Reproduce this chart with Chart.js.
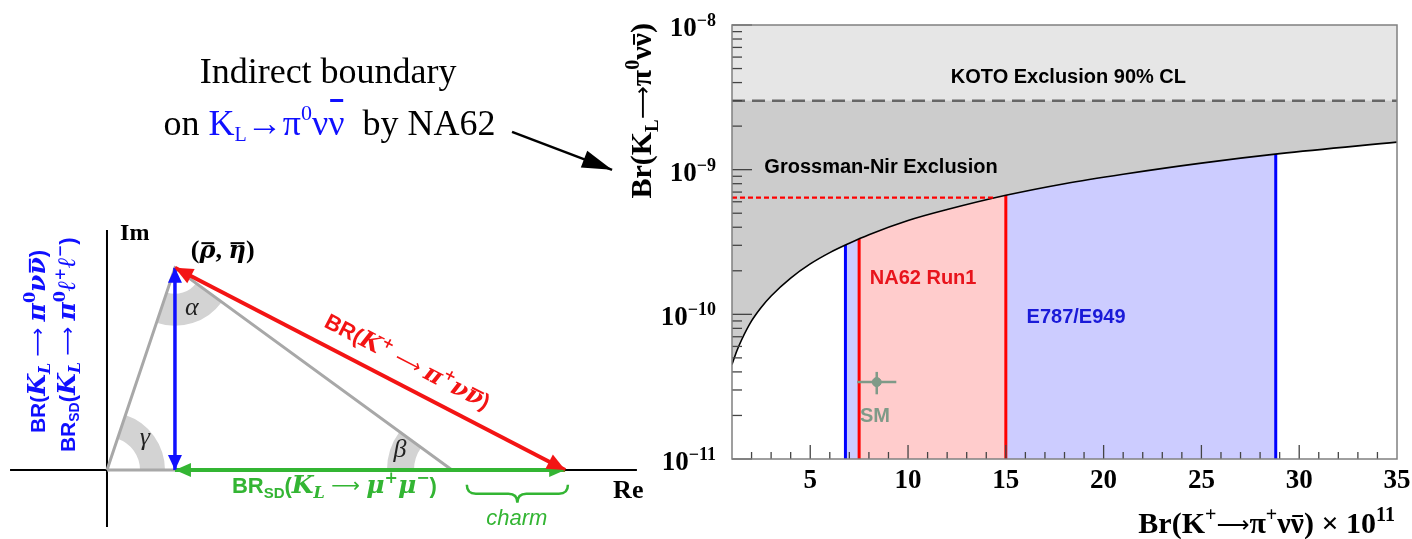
<!DOCTYPE html>
<html>
<head>
<meta charset="utf-8">
<script src="https://cdn.jsdelivr.net/npm/chart.js@4"></script>
<style>
  html, body { margin: 0; padding: 0; background: #fff; }
  #wrap { position: relative; width: 1412px; height: 539px; overflow: hidden; }
  #diagram { position: absolute; left: 0; top: 0; }
  #limits { position: absolute; left: 620px; top: 0; }
</style>
</head>
<body>
<div id="wrap">
  <canvas id="diagram" width="660" height="539"></canvas>
  <canvas id="limits" width="812" height="539"></canvas>
</div>
<script>
const SERIF = '"Liberation Serif", "Times New Roman", serif';
const SANS = '"Liberation Sans", Arial, sans-serif';
const MATH = '"DejaVu Serif", serif';
const ARROWF = '"DejaVu Sans", sans-serif';

// ---- right panel: Br(KL) vs Br(K+) ----
const brKplus = [1, 1.25, 1.5, 2, 2.5, 3, 4, 5, 6, 7, 8, 10, 12, 15, 18, 21, 25, 29, 35]; // x 1e-11
const gnBound = [4.5e-11, 5.6e-11, 6.7e-11, 9.0e-11, 1.12e-10, 1.34e-10, 1.78e-10, 2.23e-10, 2.67e-10,
  3.1e-10, 3.55e-10, 4.45e-10, 5.3e-10, 6.65e-10, 8.0e-10, 9.3e-10, 1.11e-9, 1.29e-9, 1.55e-9];
const kotoLimit = 3.0e-9;
const na62Run1 = [7.5, 15.0];
const e787e949 = [6.8, 28.8];
const na62Indirect = 6.4e-10;
const na62IndirectEnd = 14.5;
const smKplus = [8.4], smKplusErr = [1.0];
const smKL = [3.4e-11], smKLErr = [0.6e-11];
const xMin = 1, xMax = 35;
const yMin = 1e-11, yMax = 1e-8;
const xMajor = [5, 10, 15, 20, 25, 30, 35];
const yDecades = [1e-11, 1e-10, 1e-9, 1e-8];

// ---- left panel: unitarity triangle (units of the base) ----
const origin = [0, 0];
const apex = [0.197, 0.586];
const unitPt = [1, 0];
const kplusEnd = 1.328;
const reAxisX = [-0.281, 1.536];
const imAxisY = [-0.165, 0.696];
const noteArrowX = [1.174, 1.464];
const noteArrowY = [0.980, 0.870];
const braceX = [1.043, 1.336];
const braceTop = -0.043;

const BLUE = '#1010ff', RED = '#f31414', GREEN = '#33b533';
const f = (size, style = '', fam = SERIF) => `${style} ${size}px ${fam}`.trim();

function richWidth(ctx, parts) {
  let w = 0;
  for (const p of parts) { ctx.font = p.f; w += ctx.measureText(p.t).width; }
  return w;
}

function drawRich(ctx, parts, x, y, o = {}) {
  ctx.save();
  ctx.translate(x, y);
  if (o.angle) ctx.rotate(o.angle);
  const w = richWidth(ctx, parts);
  let cx = o.align === 'center' ? -w / 2 : o.align === 'right' ? -w : 0;
  ctx.textAlign = 'left';
  ctx.textBaseline = 'alphabetic';
  for (const p of parts) {
    ctx.font = p.f;
    ctx.fillStyle = p.c || o.color || '#000';
    const pw = ctx.measureText(p.t).width;
    const dy = p.dy || 0;
    ctx.fillText(p.t, cx, dy);
    if (p.bar) ctx.fillRect(cx + pw * 0.12, dy - p.bar[0] - p.bar[1], pw * 0.8, p.bar[1]);
    cx += pw;
  }
  ctx.restore();
}

function wedge(ctx, V, P, Q, r0, r1) {
  let a1 = Math.atan2(P[1] - V[1], P[0] - V[0]);
  const a2 = Math.atan2(Q[1] - V[1], Q[0] - V[0]);
  let d = a2 - a1;
  while (d > Math.PI) d -= 2 * Math.PI;
  while (d < -Math.PI) d += 2 * Math.PI;
  if (d < 0) { a1 = a2; d = -d; }
  ctx.beginPath();
  ctx.arc(V[0], V[1], r1, a1, a1 + d, false);
  ctx.arc(V[0], V[1], r0, a1 + d, a1, true);
  ctx.closePath();
  ctx.fill();
}

function head(ctx, x0, y0, x1, y1, L, W) {
  const a = Math.atan2(y1 - y0, x1 - x0);
  const c = Math.cos(a), s = Math.sin(a);
  ctx.beginPath();
  ctx.moveTo(x1, y1);
  ctx.lineTo(x1 - L * c + W * s, y1 - L * s - W * c);
  ctx.lineTo(x1 - L * c - W * s, y1 - L * s + W * c);
  ctx.closePath();
  ctx.fill();
}

function brace(ctx, x0, x1, y0, h) {
  const m = (x0 + x1) / 2, r = 9, mid = y0 + h / 2;
  ctx.beginPath();
  ctx.moveTo(x0, y0);
  ctx.quadraticCurveTo(x0, mid, x0 + r, mid);
  ctx.lineTo(m - r, mid);
  ctx.quadraticCurveTo(m, mid, m, y0 + h);
  ctx.quadraticCurveTo(m, mid, m + r, mid);
  ctx.lineTo(x1 - r, mid);
  ctx.quadraticCurveTo(x1, mid, x1, y0);
  ctx.stroke();
}

// math pieces
const mi = (t, size, c, dy) => ({ t, f: f(size, 'italic bold', MATH), c, dy });
const ms = (t, size, c, dy) => ({ t, f: f(size, 'bold', MATH), c, dy });
const sb = (t, size, c, dy) => ({ t, f: f(size, 'bold', SANS), c, dy });
const rm = (t, size, c, dy) => ({ t, f: f(size, ''), c, dy });
const bd = (t, size, c, dy) => ({ t, f: f(size, 'bold'), c, dy });
const ar = (t, size, c, dy) => ({ t, f: f(size, '', ARROWF), c, dy });

const txtIndirect = [rm('Indirect boundary', 36)];
const txtOnKL = [
  rm('on ', 36),
  rm('K', 36, BLUE), rm('L', 20, BLUE, 6),
  rm('\u2192\u03c0', 36, BLUE), rm('0', 22, BLUE, -15),
  rm('\u03bd', 36, BLUE), { ...rm('\u03bd', 36, BLUE), bar: [33, 3] },
  rm('  by NA62', 36),
];
const txtBlue1 = [
  sb('BR(', 21, BLUE), mi('K', 25, BLUE), mi('L', 16, BLUE, 5), ar(' \u27f6 ', 20, BLUE, -1),
  mi('\u03c0', 25, BLUE), ms('0', 16, BLUE, -10), mi('\u03bd', 25, BLUE),
  { ...mi('\u03bd', 25, BLUE), bar: [14, 2] }, sb(')', 22, BLUE),
];
const txtBlue2 = [
  sb('BR', 21, BLUE), sb('SD', 14, BLUE, 4), sb('(', 22, BLUE), mi('K', 25, BLUE), mi('L', 16, BLUE, 5),
  ar(' \u27f6 ', 20, BLUE, -1), mi('\u03c0', 25, BLUE), ms('0', 16, BLUE, -10),
  mi('\u2113', 25, BLUE), ms('+', 15, BLUE, -10), mi('\u2113', 25, BLUE), ms('\u2212', 15, BLUE, -10), sb(')', 22, BLUE),
];
const txtRed = [
  sb('BR(', 22, RED), mi('K', 24, RED), ms('+', 15, RED, -10), ar(' \u27f6 ', 19, RED, -1),
  mi('\u03c0', 24, RED), ms('+', 15, RED, -10), mi('\u03bd', 24, RED),
  { ...mi('\u03bd', 24, RED), bar: [13, 2] }, sb(')', 22, RED),
];
const txtGreen = [
  sb('BR', 22, GREEN), sb('SD', 15, GREEN, 5), sb('(', 22, GREEN), mi('K', 25, GREEN), mi('L', 16, GREEN, 5),
  ar(' \u27f6 ', 20, GREEN, -1), mi('\u03bc', 25, GREEN), ms('+', 16, GREEN, -10),
  mi('\u03bc', 25, GREEN), ms('\u2212', 16, GREEN, -10), sb(')', 22, GREEN),
];
const txtApex = [
  bd('(', 26), { ...mi('\u03c1', 24), bar: [14, 2] }, bd(', ', 26), { ...mi('\u03b7', 24), bar: [14, 2] }, bd(')', 26),
];

// label anchors in triangle units
const diagramLabels = [
  { parts: txtIndirect, at: [0.641, 1.122], align: 'center' },
  { parts: txtOnKL, at: [0.645, 0.971], align: 'center' },
  { parts: [bd('Im', 24)], at: [0.038, 0.667] },
  { parts: txtApex, at: [0.243, 0.614] },
  { parts: txtBlue1, at: [-0.180, 0.107], angle: -Math.PI / 2 },
  { parts: txtBlue2, at: [-0.093, 0.052], angle: -Math.PI / 2 },
  { parts: txtRed, at: [0.626, 0.417], alongRed: true },
  { parts: txtGreen, at: [0.362, -0.067] },
  { parts: [{ t: 'charm', f: f(22, 'italic', SANS), c: GREEN }], at: [1.188, -0.159], align: 'center' },
  { parts: [bd('Re', 26)], at: [1.467, -0.081] },
];
const greek = [
  { t: '\u03b1', at: [0.246, 0.470] },
  { t: '\u03b2', at: [0.849, 0.058] },
  { t: '\u03b3', at: [0.110, 0.093] },
];

const seg = (x0, y0, x1, y1) => [{ x: x0, y: y0 }, { x: x1, y: y1 }];
const lineSet = (data, color, width, order, extra = {}) => ({
  data, showLine: true, borderColor: color, borderWidth: width, pointRadius: 0,
  fill: false, order, borderCapStyle: 'butt', ...extra,
});

const diagramSets = [
  lineSet(seg(reAxisX[0], 0, reAxisX[1], 0), '#000', 2, 8),
  lineSet(seg(0, imAxisY[0], 0, imAxisY[1]), '#000', 2, 8),
  lineSet([origin, apex, unitPt, origin].map(p => ({ x: p[0], y: p[1] })), '#a8a8a8', 3, 7),
  lineSet(seg(apex[0], 0, kplusEnd, 0), GREEN, 4, 5, { heads: ['start', 'end'], headLen: 16, headW: 7 }),
  lineSet(seg(apex[0], 0, apex[0], apex[1]), BLUE, 3.5, 4, { heads: ['start', 'end'], headLen: 15, headW: 7 }),
  lineSet(seg(apex[0], apex[1], kplusEnd, 0), RED, 4, 3, { heads: ['start', 'end'], headLen: 18, headW: 8 }),
  lineSet(seg(noteArrowX[0], noteArrowY[0], noteArrowX[1], noteArrowY[1]), '#000', 2.5, 2, { heads: ['end'], headLen: 30, headW: 9 }),
];

const diagramDecor = {
  id: 'diagramDecor',
  beforeDatasetsDraw(chart) {
    const { ctx, scales: { x, y } } = chart;
    const P = p => [x.getPixelForValue(p[0]), y.getPixelForValue(p[1])];
    const O = P(origin), A = P(apex), B = P(unitPt);
    ctx.save();
    ctx.fillStyle = '#d3d3d3';
    wedge(ctx, O, B, A, 33, 58);
    wedge(ctx, A, O, B, 26, 58);
    wedge(ctx, B, A, O, 38, 65);
    ctx.restore();
  },
  afterDatasetsDraw(chart) {
    const { ctx, scales: { x, y } } = chart;
    const P = p => [x.getPixelForValue(p[0]), y.getPixelForValue(p[1])];
    chart.data.datasets.forEach((ds, i) => {
      if (!ds.heads) return;
      const pts = chart.getDatasetMeta(i).data;
      const p0 = pts[0], p1 = pts[pts.length - 1];
      ctx.fillStyle = ds.borderColor;
      if (ds.heads.includes('end')) head(ctx, p0.x, p0.y, p1.x, p1.y, ds.headLen, ds.headW);
      if (ds.heads.includes('start')) head(ctx, p1.x, p1.y, p0.x, p0.y, ds.headLen, ds.headW);
    });

    ctx.save();
    ctx.fillStyle = '#222';
    ctx.font = f(26, 'italic');
    ctx.textAlign = 'center';
    ctx.textBaseline = 'middle';
    greek.forEach(g => { const [px, py] = P(g.at); ctx.fillText(g.t, px, py); });
    ctx.restore();

    const A = P(apex), E = P([kplusEnd, 0]);
    const redAngle = Math.atan2(E[1] - A[1], E[0] - A[0]);
    diagramLabels.forEach(l => {
      const [px, py] = P(l.at);
      drawRich(ctx, l.parts, px, py, { align: l.align, angle: l.alongRed ? redAngle : l.angle });
    });

    ctx.save();
    ctx.strokeStyle = GREEN;
    ctx.lineWidth = 2.5;
    const [bx0, by] = P([braceX[0], braceTop]);
    const [bx1] = P([braceX[1], braceTop]);
    brace(ctx, bx0, bx1, by, 18);
    ctx.restore();
  },
};

new Chart(document.getElementById('diagram'), {
  type: 'scatter',
  data: { datasets: diagramSets },
  options: {
    responsive: false, animation: false, devicePixelRatio: 1,
    layout: { padding: 0 },
    scales: {
      x: { type: 'linear', min: -0.3101, max: 1.6029, display: false },
      y: { type: 'linear', min: -0.2, max: 1.3623, display: false },
    },
    plugins: { legend: { display: false }, tooltip: { enabled: false } },
  },
  plugins: [diagramDecor],
});

// ---- right chart ----
const vline = (xv, color, order) => lineSet(seg(xv, yMin, xv, yMax), color, 3, order);
const band = (xs, color, order) => ({
  data: seg(xs[0], yMax, xs[1], yMax), showLine: true, borderWidth: 0, pointRadius: 0,
  fill: 'start', backgroundColor: color, order,
});

const limitSets = [
  band(e787e949, '#ccccff', 20),
  band(na62Run1, '#ffcccc', 19),
  vline(e787e949[0], '#0000ff', 18),
  vline(e787e949[1], '#0000ff', 18),
  vline(na62Run1[0], '#ff0000', 17),
  vline(na62Run1[1], '#ff0000', 17),
  {
    data: brKplus.map((v, i) => ({ x: v, y: gnBound[i] })), showLine: true,
    borderColor: '#000', borderWidth: 1.6, pointRadius: 0, cubicInterpolationMode: 'monotone',
    fill: 'end', backgroundColor: '#cccccc', order: 10,
  },
  {
    data: seg(xMin, kotoLimit, xMax, kotoLimit), showLine: true, borderColor: '#666',
    borderWidth: 2.5, borderDash: [13, 7], pointRadius: 0, fill: 'end', backgroundColor: '#e6e6e6', order: 9,
  },
  lineSet(seg(xMin, na62Indirect, na62IndirectEnd, na62Indirect), '#ff0000', 2.2, 8, { borderDash: [5, 3] }),
  {
    data: smKplus.map((v, i) => ({ x: v, y: smKL[i] })), pointRadius: 4.5,
    pointBackgroundColor: '#7f9a88', pointBorderColor: '#7f9a88', order: 1,
  },
];

const limitLabels = [
  { t: 'KOTO Exclusion 90% CL', x: 18.2, y: 4.0e-9, c: '#000' },
  { t: 'Grossman-Nir Exclusion', x: 8.62, y: 9.5e-10, c: '#000' },
  { t: 'NA62 Run1', x: 10.77, y: 1.62e-10, c: '#e8141c' },
  { t: 'E787/E949', x: 18.59, y: 8.7e-11, c: '#1a1ad8' },
  { t: 'SM', x: 8.31, y: 1.8e-11, c: '#7f9a88' },
];

const limitsDecor = {
  id: 'limitsDecor',
  afterDatasetsDraw(chart) {
    const { ctx, chartArea: a, scales: { x, y } } = chart;
    const line = (x0, y0, x1, y1) => { ctx.beginPath(); ctx.moveTo(x0, y0); ctx.lineTo(x1, y1); ctx.stroke(); };
    ctx.save();

    // SM error bars
    ctx.strokeStyle = '#7f9a88';
    ctx.lineWidth = 2.5;
    smKplus.forEach((v, i) => {
      const px = x.getPixelForValue(v), py = y.getPixelForValue(smKL[i]);
      line(x.getPixelForValue(v - smKplusErr[i]), py, x.getPixelForValue(v + smKplusErr[i]), py);
      line(px, y.getPixelForValue(smKL[i] + smKLErr[i]), px, y.getPixelForValue(smKL[i] - smKLErr[i]));
    });

    // ticks, inside the frame
    ctx.strokeStyle = '#444';
    ctx.lineWidth = 1.3;
    for (let v = 2; v < xMax; v++) {
      const px = x.getPixelForValue(v);
      line(px, a.bottom, px, a.bottom - (v % 5 === 0 ? 14 : 7));
    }
    yDecades.forEach(d => {
      for (let k = 1; k <= 9; k++) {
        const v = k * d;
        if (v > yMax * 1.001) break;
        const py = y.getPixelForValue(v);
        line(a.left, py, a.left + (k === 1 ? 20 : 10), py);
      }
    });

    ctx.strokeStyle = '#808080';
    ctx.lineWidth = 1.5;
    ctx.strokeRect(a.left, a.top, a.right - a.left, a.bottom - a.top);

    // region labels
    ctx.font = f(20, 'bold', SANS);
    ctx.textAlign = 'center';
    ctx.textBaseline = 'alphabetic';
    limitLabels.forEach(l => {
      ctx.fillStyle = l.c;
      ctx.fillText(l.t, x.getPixelForValue(l.x), y.getPixelForValue(l.y));
    });
    ctx.restore();

    // y tick labels 10^n
    yDecades.forEach(d => {
      const py = y.getPixelForValue(d);
      const e = Math.round(Math.log10(d));
      drawRich(ctx, [bd('10', 27), bd('\u2212' + Math.abs(e), 18, '#000', -10)], a.left - 16, py + 11, { align: 'right' });
    });

    // axis titles
    drawRich(ctx, [
      bd('Br(K', 30), bd('+', 20, '#000', -12), ar('\u27f6', 23, '#000', -1), bd('\u03c0', 30), bd('+', 20, '#000', -12),
      bd('\u03bd', 30), { ...bd('\u03bd', 30), bar: [16, 2] }, bd(') \u00d7 10', 30), bd('11', 20, '#000', -12),
    ], a.right - 2, 533, { align: 'right' });
    drawRich(ctx, [
      bd('Br(K', 30), bd('L', 19, '#000', 7), ar('\u27f6', 23, '#000', -1), bd('\u03c0', 30), bd('0', 20, '#000', -12),
      bd('\u03bd', 30), { ...bd('\u03bd', 30), bar: [16, 2] }, bd(')', 30),
    ], 31, a.top - 2, { align: 'right', angle: -Math.PI / 2 });
  },
};

new Chart(document.getElementById('limits'), {
  type: 'scatter',
  data: { datasets: limitSets },
  options: {
    responsive: false, animation: false, devicePixelRatio: 1,
    layout: { padding: { left: 0, top: 25, right: 35, bottom: 0 } },
    scales: {
      x: {
        type: 'linear', min: xMin, max: xMax,
        afterBuildTicks: s => { s.ticks = xMajor.map(v => ({ value: v })); },
        afterFit: s => { s.height = 80; },
        ticks: { color: '#000', font: { family: SERIF, size: 27, weight: 'bold' }, maxRotation: 0, autoSkip: false, padding: 6 },
        grid: { display: false, drawTicks: false },
        border: { display: false },
      },
      y: {
        type: 'logarithmic', min: yMin, max: yMax,
        afterFit: s => { s.width = 112; },
        ticks: { display: false },
        grid: { display: false, drawTicks: false },
        border: { display: false },
      },
    },
    plugins: { legend: { display: false }, tooltip: { enabled: false } },
  },
  plugins: [limitsDecor],
});
</script>
</body>
</html>
